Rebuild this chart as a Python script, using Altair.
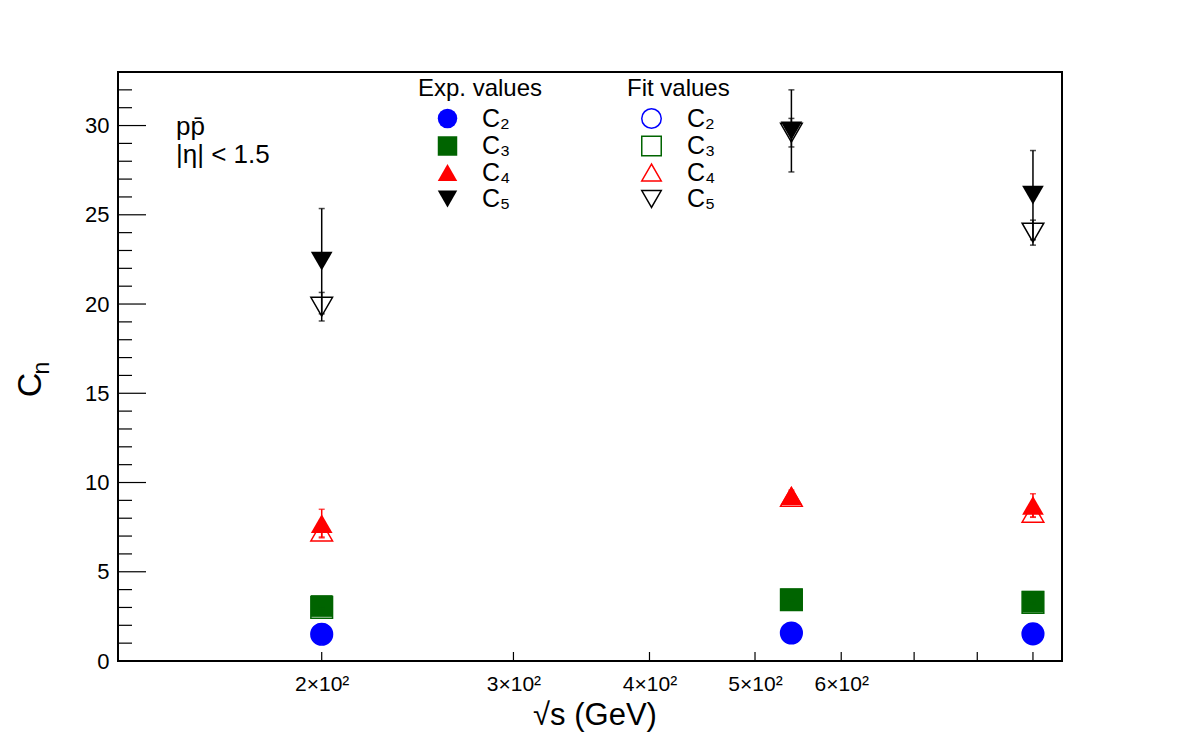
import altair as alt
import pandas as pd

# ---------------- data ----------------
energy = [200, 540, 900]
orders = ["C₂", "C₃", "C₄", "C₅"]

exp_c2 = [1.52, 1.57, 1.52]
exp_c3 = [3.08, 3.45, 3.32]
exp_c4 = [7.70, 9.27, 8.72]
exp_c5 = [22.40, 29.70, 26.10]
exp_err_c2 = [0.05, 0.05, 0.05]
exp_err_c3 = [0.15, 0.15, 0.15]
exp_err_c4 = [0.80, 0.30, 0.65]
exp_err_c5 = [2.95, 2.30, 2.50]

fit_c2 = [1.50, 1.57, 1.52]
fit_c3 = [3.00, 3.43, 3.28]
fit_c4 = [7.25, 9.20, 8.30]
fit_c5 = [19.85, 29.60, 24.00]
fit_err_c2 = [0.02, 0.02, 0.02]
fit_err_c3 = [0.05, 0.05, 0.05]
fit_err_c4 = [0.30, 0.20, 0.25]
fit_err_c5 = [0.80, 0.80, 0.70]

x_tick_labels = [200, 300, 400, 500, 600]
x_ticks = [200, 300, 400, 500, 600, 700, 800, 900]
y_major = [0, 5, 10, 15, 20, 25, 30]
y_minor = [v for v in range(0, 34) if v % 5 != 0]

# ---------------- style ----------------
W, H = 944, 589
FONT = "Liberation Sans"
palette = ["#0000ff", "#006400", "#ff0000", "#000000"]
shapes = ["circle", "square", "triangle-up", "triangle-down"]
color_of = dict(zip(orders, palette))


def build(vals, errs):
    rows = []
    for order, v_list, e_list in zip(orders, vals, errs):
        for e, v, s in zip(energy, v_list, e_list):
            rows.append(dict(energy=e, order=order, value=v, lo=v - s, hi=v + s,
                             col=color_of[order]))
    return pd.DataFrame(rows)


df_exp = build([exp_c2, exp_c3, exp_c4, exp_c5],
               [exp_err_c2, exp_err_c3, exp_err_c4, exp_err_c5])
df_fit = build([fit_c2, fit_c3, fit_c4, fit_c5],
               [fit_err_c2, fit_err_c3, fit_err_c4, fit_err_c5])

xscale = alt.Scale(type="log", domain=[130, 957], nice=False)
yscale = alt.Scale(domain=[0, 33], nice=False, zero=False)

xaxis = alt.Axis(values=x_tick_labels, labelExpr="datum.value/100 + '×10²'",
                 ticks=False, domain=False, grid=False, title=None,
                 labelFontSize=21, labelFont=FONT, labelColor="black",
                 labelPadding=12)
yaxis = alt.Axis(values=y_major, ticks=False, domain=False, grid=False,
                 title=None, labelFontSize=22, labelFont=FONT,
                 labelColor="black", labelPadding=9)


def X(f):
    return alt.X(f, scale=xscale, axis=xaxis)


def Y(f):
    return alt.Y(f, scale=yscale, axis=yaxis)


def series(df, filled, title, lx, sym_offset, label_offset):
    rules = alt.Chart(df).mark_rule(strokeWidth=1.5).encode(
        x=X("energy:Q"), y=Y("lo:Q"), y2="hi:Q",
        color=alt.Color("col:N", scale=None))
    caps = alt.Chart(df).transform_fold(["lo", "hi"], as_=["k", "v"]).mark_tick(
        orient="horizontal", size=6, thickness=1.5).encode(
        x=X("energy:Q"), y=Y("v:Q"), color=alt.Color("col:N", scale=None))
    legend = alt.Legend(title=title, orient="none", legendX=lx, legendY=5,
                        titleFontSize=24, titleFont=FONT,
                        titleFontWeight="normal", titleColor="black",
                        labelFontSize=25, labelFont=FONT, labelColor="black",
                        symbolSize=380, symbolStrokeWidth=1.5,
                        symbolOpacity=1, symbolOffset=sym_offset,
                        labelOffset=label_offset, rowPadding=0.5,
                        titlePadding=5, padding=0)
    pts = alt.Chart(df).mark_point(filled=filled, size=470, opacity=1,
                                   strokeWidth=1.5).encode(
        x=X("energy:Q"), y=Y("value:Q"),
        color=alt.Color("order:N", scale=alt.Scale(domain=orders, range=palette),
                        legend=legend),
        shape=alt.Shape("order:N", scale=alt.Scale(domain=orders, range=shapes),
                        legend=legend),
        opacity=alt.value(1))
    return alt.layer(rules, caps, pts)


exp_layer = series(df_exp, True, "Exp. values", 300, 17, 22)
fit_layer = series(df_fit, False, "Fit values", 509, 12, 23)

# inward ticks (ROOT style)
ymaj = alt.Chart(pd.DataFrame({"v": y_major})).mark_rule(
    color="black", strokeWidth=1.2).encode(
    y=Y("v:Q"), x=alt.value(0), x2=alt.value(28))
ymin = alt.Chart(pd.DataFrame({"v": y_minor})).mark_rule(
    color="black", strokeWidth=1.2).encode(
    y=Y("v:Q"), x=alt.value(0), x2=alt.value(14))
xt = alt.Chart(pd.DataFrame({"v": x_ticks})).mark_rule(
    color="black", strokeWidth=1.2).encode(
    x=X("v:Q"), y=alt.value(H), y2=alt.value(H - 9))


def label(text, x, y, size, angle=0, align="left"):
    return alt.Chart(pd.DataFrame({"t": [text]})).mark_text(
        font=FONT, fontSize=size, color="black", align=align,
        baseline="middle", angle=angle).encode(
        text="t:N", x=alt.value(x), y=alt.value(y))


texts = [
    label("pp̄", 58, 55, 26),
    label("|η| < 1.5", 58, 83, 26),
    label("√s (GeV)", 477, 644, 31, align="center"),
    label("C", -87, 313, 34, angle=270, align="center"),
    label("n", -76, 296, 23, angle=270, align="center"),
]

chart = alt.layer(ymaj, ymin, xt, exp_layer, fit_layer, *texts).resolve_scale(
    color="independent", shape="independent"
).properties(
    width=W, height=H,
    padding={"left": 118, "top": 72, "right": 120, "bottom": 75},
    autosize=alt.AutoSizeParams(type="none"),
).configure(
    font=FONT, view=alt.ViewConfig(stroke="black", strokeWidth=2),
    point=alt.MarkConfig(opacity=1),
    legend=alt.LegendConfig(symbolOpacity=1),
)

chart.save("out.html", embed_options={"renderer": "svg", "actions": False})
